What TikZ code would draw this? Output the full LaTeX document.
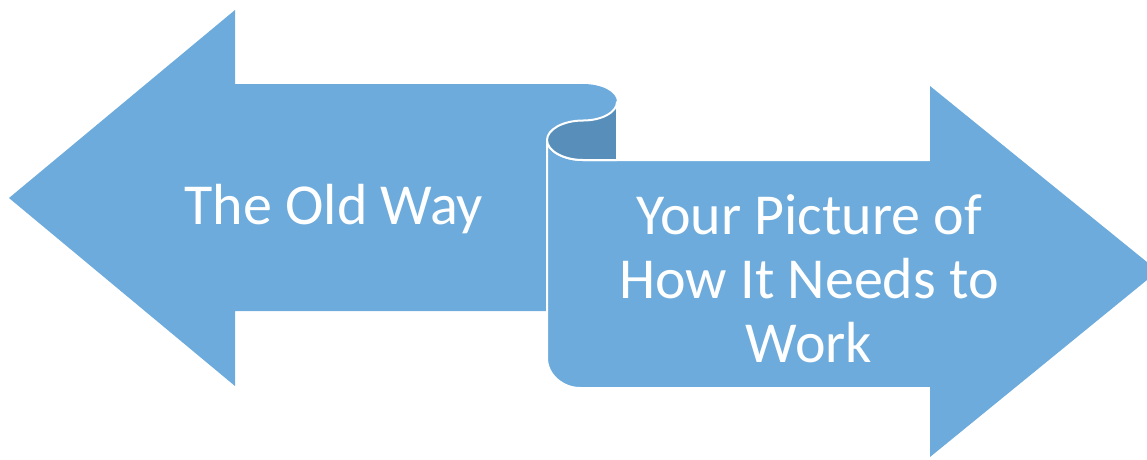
\documentclass[tikz,border=0pt]{standalone}
\usepackage{fontspec}
\setmainfont{Carlito}
\definecolor{seta}{RGB}{108,171,220}
\definecolor{dobra}{RGB}{88,143,186}

\begin{document}
\begin{tikzpicture}[x=1pt,y=-1pt,
    contorno/.style={draw=white,line width=2pt,line join=round},
    rotulo/.style={text=white,font=\fontsize{58}{64}\selectfont,align=center}]
        \useasboundingbox (0,0) rectangle (1147,459);

        % Seta da esquerda
        \fill[seta] (9,198) -- (235,10) -- (235,84) -- (583,84)
            .. controls (601.8,84) and (617,91.8) .. (617,102)
            -- (617,311) -- (235,311) -- (235,386) -- cycle;

        % Seta da direita (rolo)
        \filldraw[seta,contorno] (547,140) -- (547,358)
            .. controls (547,375) and (563,388) .. (580,388)
            -- (960,388) -- (960,160)
            -- (583,160) .. controls (563.1,160) and (547,150.5) .. (547,140) -- cycle;
        \fill[seta] (930,86) -- (1158,271) -- (930,457) -- cycle;

        % Dobra
        \filldraw[dobra,contorno] (617,102)
            .. controls (617,112.2) and (601.8,120.5) .. (583,120.5)
            .. controls (563.1,120.5) and (547,129.5) .. (547,140)
            .. controls (547,150.5) and (563.1,160) .. (583,160)
            -- (617,160) -- cycle;

        % Textos
        \node[rotulo,anchor=base] (velho) at (334,224) {The Old Way};
        \node[rotulo] (novo) at (809,279) {Your Picture of\\How It Needs to\\Work};
\end{tikzpicture}
\end{document}
